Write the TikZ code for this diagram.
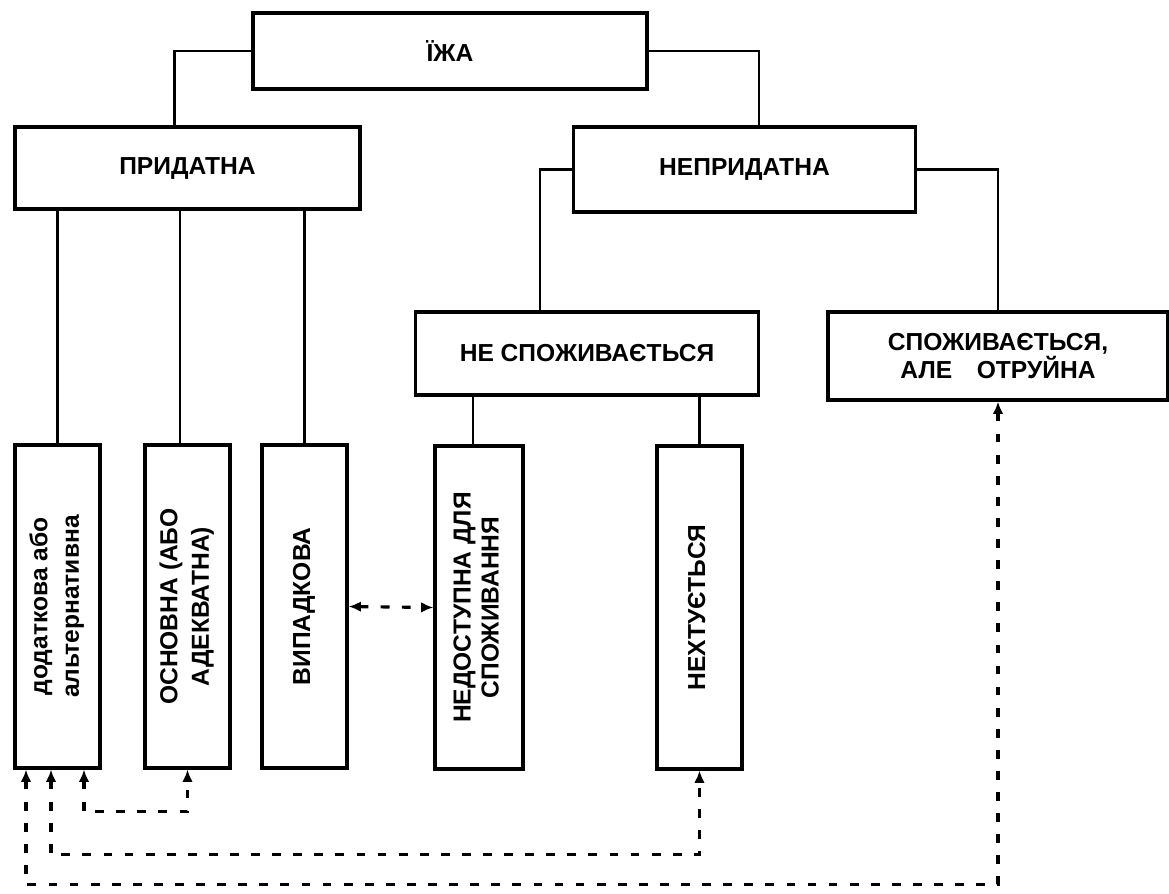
\documentclass[tikz,border=0pt]{standalone}
\usepackage{fontspec}
\setmainfont{Liberation Sans}
\usepackage{graphicx}
\usetikzlibrary{positioning}
\usetikzlibrary{arrows.meta}
\tikzstyle{box}=[draw,rectangle,line width=1.8pt,align=center,inner sep=2pt]
\tikzstyle{wide}=[box,minimum width=6.85cm,minimum height=1.66cm]
\tikzstyle{tall}=[box,minimum width=1.7cm,minimum height=6.46cm]
\newcommand{\vtext}[1]{\rotatebox{90}{\begin{tabular}{@{}c@{}}#1\end{tabular}}}

\begin{document}
\begin{tikzpicture}
	[x=0.02cm,y=-0.02cm,font=\bfseries\fontsize{14}{16}\selectfont]
	\tikzstyle{link}=[line width=1.6pt];
	\tikzstyle{alt}=[{Latex[length=7pt,width=6pt]}-{Latex[length=7pt,width=6pt]},line width=1.8pt,dash pattern=on 5pt off 7pt];
	\useasboundingbox (0,0) rectangle (1169,893);

	\node (food) [box,minimum width=7.88cm,minimum height=1.52cm] at (450,51) {ЇЖА};
	\node (fit) [wide,minimum width=6.9cm,minimum height=1.64cm] at (187.5,168) {ПРИДАТНА};
	\node (unfit) [wide,minimum height=1.7cm] at (744.5,169.5) {НЕПРИДАТНА};
	\node (notcons) [wide] at (587,353.5) {НЕ СПОЖИВАЄТЬСЯ};
	\node (poison) [wide,minimum width=6.8cm,minimum height=1.76cm] at (998,356) {СПОЖИВАЄТЬСЯ,\\АЛЕ\quad ОТРУЙНА};

	\node (dod) [tall] at (57.5,606.5) {\vtext{додаткова або\\[2pt] альтернативна}};
	\node (osn) [tall] at (187.5,606.5) {\vtext{ОСНОВНА (АБО\\[2pt] АДЕКВАТНА)}};
	\node (vyp) [tall] at (304.5,606.5) {\vtext{ВИПАДКОВА}};
	\node (nedost) [tall,minimum width=1.76cm] at (479,607.5) {\vtext{НЕДОСТУПНА ДЛЯ\\ СПОЖИВАННЯ}};
	\node (nekht) [tall] at (699.5,607.5) {\vtext{НЕХТУЄТЬСЯ}};

	\draw[link] (food.west) -| ([xshift=-0.26cm]fit.north);
	\draw[link] (food.east) -| ([xshift=0.29cm]unfit.north);
	\draw[link] (unfit.west) -| ([xshift=-0.94cm]notcons.north);
	\draw[link] (unfit.east) -| (poison.north);
	\draw[link] (fit.south -| dod.north) -- (dod.north);
	\draw[link] ([xshift=-0.15cm]fit.south -| osn.north) -- ([xshift=-0.15cm]osn.north);
	\draw[link] (fit.south -| vyp.north) -- (vyp.north);
	\draw[link] ([xshift=-0.12cm]notcons.south -| nedost.north) -- ([xshift=-0.12cm]nedost.north);
	\draw[link] (notcons.south -| nekht.north) -- (nekht.north);

	\draw[alt] (vyp.east) -- (nedost.west);
	\draw[alt] ([xshift=0.53cm]dod.south) -- ++(0,42) -| (osn.south);
	\draw[alt] ([xshift=-0.13cm]dod.south) -- ++(0,85) -| (nekht.south);
	\draw[alt] ([xshift=-0.63cm]dod.south) -- ++(0,115) -| (poison.south);
\end{tikzpicture}
\end{document}
